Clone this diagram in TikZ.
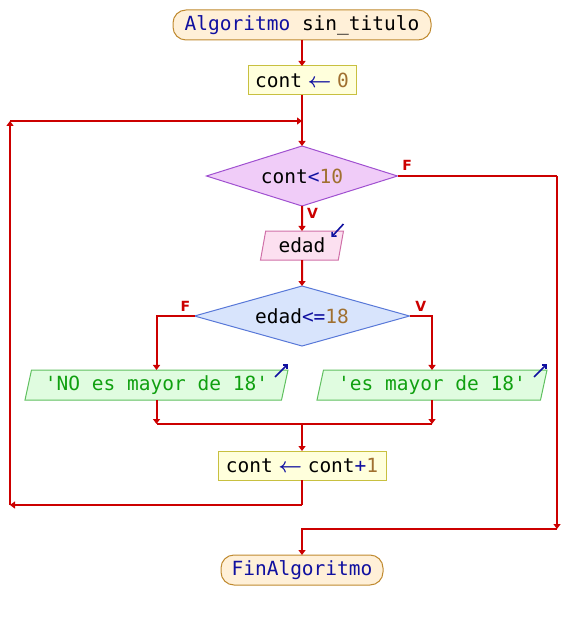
\documentclass[tikz,border=0pt]{standalone}
\usepackage{amsmath,amssymb}
\usepackage{fontspec}
\setmonofont{DejaVu Sans Mono}
\setsansfont{DejaVu Sans}
\usepackage{tikz}
\usetikzlibrary{arrows.meta,positioning,shapes.geometric,calc}
\definecolor{flowred}{HTML}{CC0000}
\definecolor{kwblue}{HTML}{1010A0}
\definecolor{numbrown}{HTML}{A07030}
\definecolor{strgreen}{HTML}{10A010}
\definecolor{termfill}{HTML}{FFF0D8}
\definecolor{termline}{HTML}{C08A30}
\definecolor{procfill}{HTML}{FFFFDC}
\definecolor{procline}{HTML}{C8C040}
\definecolor{whilefill}{HTML}{F0CCF8}
\definecolor{whileline}{HTML}{A050D0}
\definecolor{infill}{HTML}{FCE0F0}
\definecolor{inline}{HTML}{D070A8}
\definecolor{iffill}{HTML}{D8E4FC}
\definecolor{ifline}{HTML}{5878D8}
\definecolor{outfill}{HTML}{E0FCE0}
\definecolor{outline}{HTML}{60C060}
\newcommand{\pkw}[1]{\textcolor{kwblue}{#1}}
\newcommand{\pnum}[1]{\textcolor{numbrown}{#1}}
\newcommand{\pstr}[1]{\textcolor{strgreen}{#1}}
\newcommand{\passign}{\makebox[35pt]{\pkw{$\boldsymbol{\leftarrow}$}}}

\begin{document}
\begin{tikzpicture}[
  x=1pt,y=-1pt,
  font=\ttfamily\fontsize{19.5}{23}\selectfont,
  blk/.style={draw,line width=1pt,inner sep=0pt,outer sep=0pt,minimum height=29pt},
  term/.style={blk,rounded corners=13pt,draw=termline,fill=termfill,minimum height=30pt},
  proc/.style={blk,draw=procline,fill=procfill},
  cond/.style={blk,diamond,aspect=3.4,minimum height=60pt},
  io/.style={blk,trapezium,trapezium left angle=71,trapezium right angle=109,
             trapezium stretches body},
  flowline/.style={draw=flowred,line width=2pt},
  flow/.style={flowline,-{Triangle[width=7pt,length=5pt]}},
  icon/.style={draw=kwblue,line width=1.6pt,-{Straight Barb[length=3pt,width=6pt]}},
  lbl/.style={font=\sffamily\bfseries\fontsize{14}{14}\selectfont,text=flowred,inner sep=1pt}
]
  \useasboundingbox (0,0) rectangle (568,620);

  \node[term,minimum width=258pt] (start) at (302,25) {\pkw{Algoritmo} sin\_titulo};
  \node[proc,minimum width=108pt,below=26pt of start] (cont0) {cont\passign\pnum{0}};
  \node[cond,draw=whileline,fill=whilefill,minimum width=191pt,below=51pt of cont0] (while)
    {cont\pkw{<}\pnum{10}};
  \node[io,draw=inline,fill=infill,minimum width=83pt,below=25pt of while] (edad) {edad};
  \node[cond,draw=ifline,fill=iffill,minimum width=215pt,below=26pt of edad] (ifage)
    {edad\pkw{<=}\pnum{18}};
  \node[io,draw=outline,fill=outfill,minimum width=263pt,minimum height=30pt] (outno)
    at (156.5,385) {\pstr{'NO es mayor de 18'}};
  \node[io,draw=outline,fill=outfill,minimum width=230pt,minimum height=30pt] (outyes)
    at (432,385) {\pstr{'es mayor de 18'}};
  \node[proc,minimum width=168pt] (inc) at (302,465.5) {cont\passign cont\pkw{+}\pnum{1}};
  \node[term,minimum width=162pt] (fin) at (302,570) {\pkw{FinAlgoritmo}};

  % io icons
  \draw[icon] ($(edad.top right corner)+(0,-7)$) -- ($(edad.top right corner)+(-12,6)$);
  \draw[icon] ($(outno.top right corner)+(-13,7)$) -- ($(outno.top right corner)+(0,-6)$);
  \draw[icon] ($(outyes.top right corner)+(-13,7)$) -- ($(outyes.top right corner)+(0,-6)$);

  \coordinate (loopA) at (302,505);
  \coordinate (loopB) at (10,505);
  \coordinate (loopC) at (10,121);
  \coordinate (loopD) at (302,121);
  \coordinate (exitA) at (557,176);
  \coordinate (exitB) at (557,529);
  \coordinate (join) at (302,424);

  \draw[flow] (start) -- (cont0);
  \draw[flow] (cont0) -- (while);
  \draw[flow] (while) -- node[lbl,right=3pt,pos=0.3]{V} (edad);
  \draw[flow] (edad) -- (ifage);
  \draw[flow] (ifage.west) -| node[lbl,above=3pt,pos=0.12]{F} (outno.north);
  \draw[flow] (ifage.east) -| node[lbl,above=3pt,pos=0.25]{V} (outyes.north);
  \draw[flow] (outno.south) -- (outno.south |- join);
  \draw[flow] (outyes.south) -- (outyes.south |- join);
  \draw[flowline] (outno.south |- join) -- (outyes.south |- join);
  \draw[flow] (join) -- (inc);

  \draw[flowline] (inc) -- (loopA);
  \draw[flow] (loopA) -- (loopB);
  \draw[flow] (loopB) -- (loopC);
  \draw[flow] (loopC) -- (loopD);

  \draw[flowline] (while.east) -- node[lbl,above=3pt,pos=0.06]{F} (exitA);
  \draw[flow] (exitA) -- (exitB);
  \draw[flow] (exitB) -| (fin);
\end{tikzpicture}
\end{document}
